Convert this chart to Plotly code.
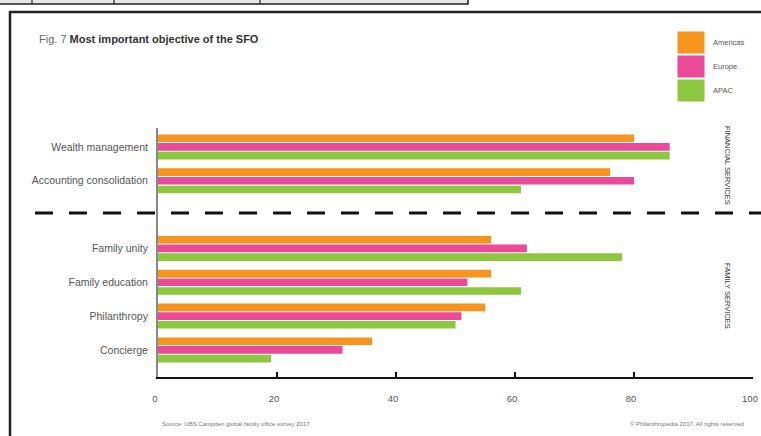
import plotly.graph_objects as go

# ---- data ----
categories = ["Wealth management", "Accounting consolidation",
              "Family unity", "Family education", "Philanthropy", "Concierge"]
series_names = ["Americas", "Europe", "APAC"]
americas = [80, 76, 56, 56, 55, 36]
europe = [86, 80, 62, 52, 51, 31]
apac = [86, 61, 78, 61, 50, 19]
x_ticks = [0, 20, 40, 60, 80, 100]
group_labels = ["FINANCIAL SERVICES", "FAMILY SERVICES"]
title_prefix = "Fig. 7"
title_text = "Most important objective of the SFO"
source_text = "Source: UBS Campden global family office survey 2017"
copyright_text = "\u00a9 Philanthropedia 2017. All rights reserved"

# ---- layout helpers ----
W, H = 761, 436
L, R, T, B = 158, 8, 128, 59
PW, PH = W - L - R, H - T - B
def px(x):
    return (x - L) / PW
def py(y):
    return (H - B - y) / PH

positions = [0, 1, 3, 4, 5, 6]
colors = ["#F7941D", "#EA4A98", "#8DC63F"]
values = [americas, europe, apac]
FONT = "Liberation Sans"

fig = go.Figure()
for name, vals, col in zip(series_names, values, colors):
    fig.add_trace(go.Bar(y=positions, x=vals, name=name, orientation="h",
                         marker=dict(color=col, line=dict(width=0)),
                         showlegend=False, hoverinfo="x+name"))

shapes = []
annotations = []

# outer frame
shapes.append(dict(type="rect", xref="paper", yref="paper",
                   x0=px(10), x1=px(770), y0=py(12), y1=py(445),
                   line=dict(color="#222", width=2.5), fillcolor="rgba(0,0,0,0)", layer="below"))
# strip of the table above
shapes.append(dict(type="rect", xref="paper", yref="paper",
                   x0=px(-2), x1=px(468), y0=py(-6), y1=py(4),
                   line=dict(color="#222", width=1.5), fillcolor="#e6e6e6"))
for sx in [32, 114, 260]:
    shapes.append(dict(type="line", xref="paper", yref="paper",
                       x0=px(sx), x1=px(sx), y0=py(-2), y1=py(4),
                       line=dict(color="#222", width=1.2)))
# dashed separator
shapes.append(dict(type="line", xref="paper", yref="paper",
                   x0=px(35), x1=px(770), y0=py(213), y1=py(213),
                   line=dict(color="#111", width=3, dash="18px,16px")))

# legend swatches
sw_tops = [31, 55, 79]
for name, col, top in zip(series_names, colors, sw_tops):
    shapes.append(dict(type="rect", xref="paper", yref="paper",
                       x0=px(677), x1=px(705), y0=py(top), y1=py(top + 23),
                       line=dict(width=1, color="white"), fillcolor=col))
    annotations.append(dict(x=px(711), y=py(top + 11.5), xref="paper", yref="paper",
                            text=name, showarrow=False, xanchor="left", yanchor="middle",
                            font=dict(family=FONT, size=7.5, color="#555")))

# title
annotations.append(dict(x=px(37), y=py(39), xref="paper", yref="paper",
                        text=f"<span style='color:#666'>{title_prefix}</span> <b>{title_text}</b>",
                        showarrow=False, xanchor="left", yanchor="middle",
                        font=dict(family=FONT, size=11, color="#333")))
# group labels (rotated)
for lab, cy in zip(group_labels, [165, 296]):
    annotations.append(dict(x=px(728), y=py(cy), xref="paper", yref="paper",
                            text=lab, textangle=90, showarrow=False,
                            xanchor="center", yanchor="middle",
                            font=dict(family=FONT, size=7.5, color="#333")))
# source and copyright
annotations.append(dict(x=px(160), y=py(424), xref="paper", yref="paper",
                        text=source_text, showarrow=False, xanchor="left", yanchor="middle",
                        font=dict(family=FONT, size=6, color="#777")))
annotations.append(dict(x=px(746), y=py(424), xref="paper", yref="paper",
                        text=copyright_text, showarrow=False, xanchor="right", yanchor="middle",
                        font=dict(family=FONT, size=6, color="#777")))

fig.update_layout(
    width=W, height=H,
    margin=dict(l=L, r=R, t=T, b=B, pad=0, autoexpand=False),
    paper_bgcolor="white", plot_bgcolor="white",
    barmode="group", bargap=0.23, bargroupgap=0.12,
    showlegend=False,
    shapes=shapes, annotations=annotations,
    font=dict(family=FONT, color="#555"),
    xaxis=dict(range=[0, 100], tickvals=x_ticks, ticktext=[str(v) for v in x_ticks],
               automargin=False, ticklabeloverflow="allow", ticklabelshift=-3,
               showgrid=False, zeroline=False, showline=True, linecolor="#111", linewidth=2,
               ticks="inside", ticklen=5, tickwidth=2, tickcolor="#111",
               tickfont=dict(family=FONT, size=9.5, color="#555"), ticklabelstandoff=12),
    yaxis=dict(range=[6.8, -0.56], tickvals=positions, ticktext=categories,
               automargin=False,
               showgrid=False, zeroline=False, showline=True, linecolor="#888", linewidth=2,
               ticks="", tickfont=dict(family=FONT, size=10.5, color="#555"),
               ticklabelstandoff=6),
)

fig.write_html("out.html")
